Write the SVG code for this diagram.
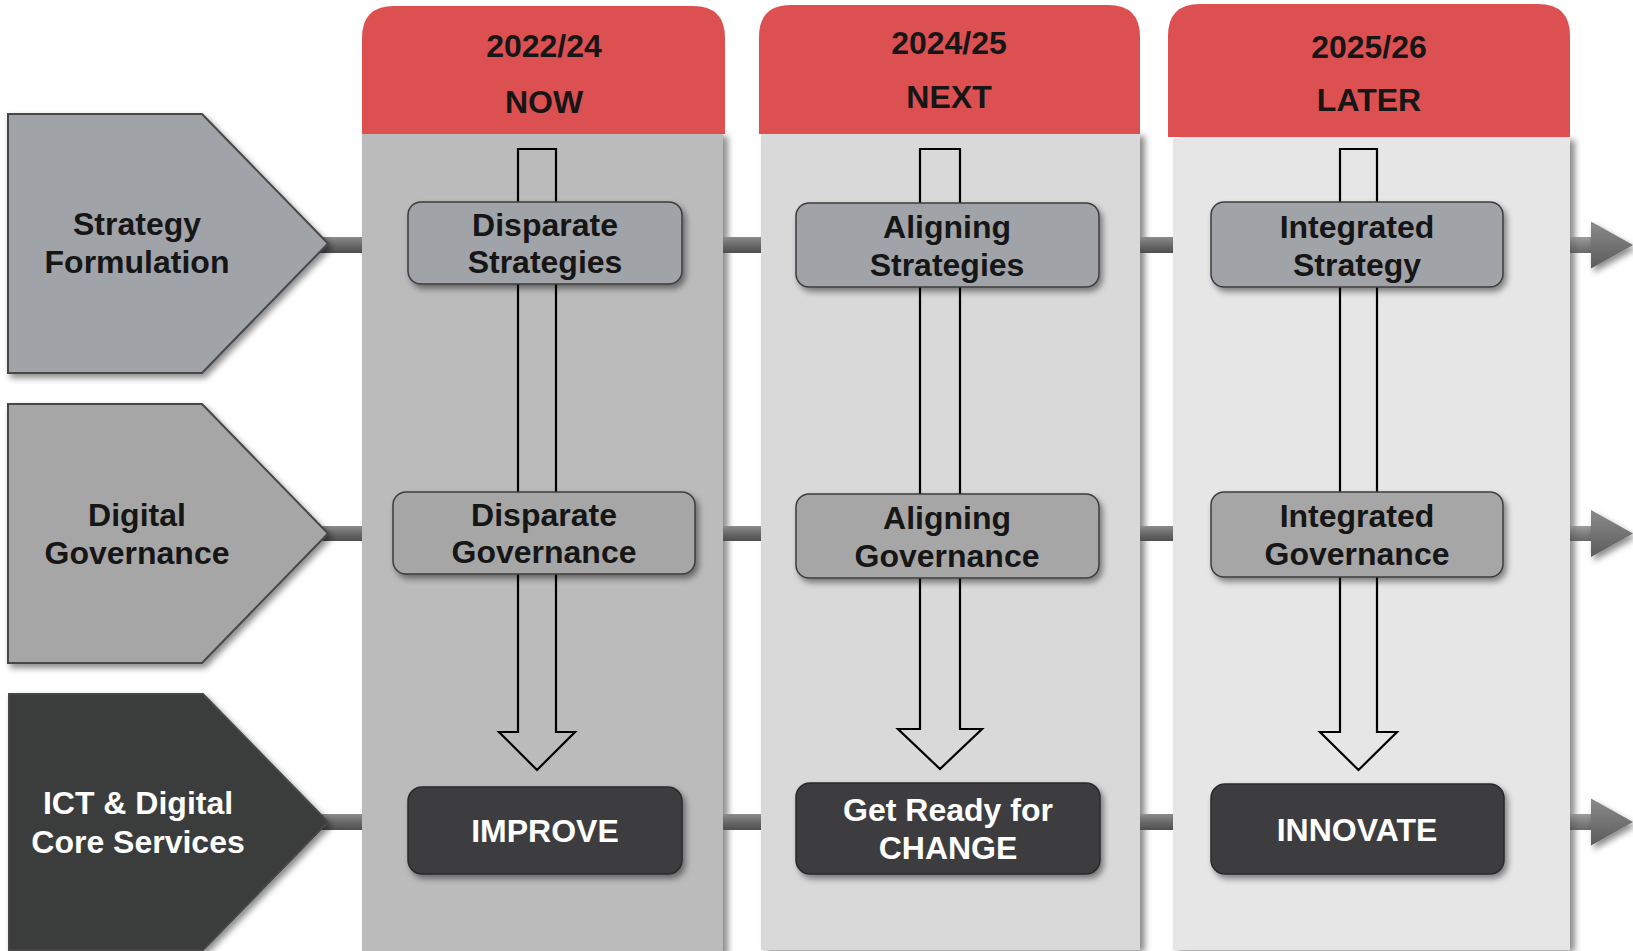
<svg xmlns="http://www.w3.org/2000/svg" width="1633" height="951" viewBox="0 0 1633 951">
<defs>
<style>
.t{font-family:"Liberation Sans",Arial,sans-serif;font-weight:bold;font-size:32px;text-anchor:middle;fill:#161616}
.tw{fill:#ffffff}
.hdr{fill:#dc5052}
.box1{fill:#a0a3a8;stroke:#3c3c3c;stroke-width:1.5}
.box2{fill:#a6a6a6;stroke:#3c3c3c;stroke-width:1.5}
.box3{fill:#3c3d40;stroke:#2a2a2a;stroke-width:1.5}
.pent{stroke:#474747;stroke-width:2}
.bar{fill:url(#barg)}
.varrow{fill:none;stroke:#000;stroke-width:2.2;stroke-linejoin:miter}
.tri{fill:url(#trig)}
</style>
<linearGradient id="barg" x1="0" y1="0" x2="0" y2="1">
<stop offset="0" stop-color="#8c8c8c"/>
<stop offset="0.5" stop-color="#6a6a6a"/>
<stop offset="1" stop-color="#4e4e4e"/>
</linearGradient>
<linearGradient id="trig" x1="0" y1="0" x2="0" y2="1">
<stop offset="0" stop-color="#8a8a8a"/>
<stop offset="1" stop-color="#5c5c5c"/>
</linearGradient>
<filter id="sh" x="-10%" y="-10%" width="130%" height="130%">
<feDropShadow dx="3" dy="4" stdDeviation="3" flood-color="#000" flood-opacity="0.45"/>
</filter>
<filter id="csh" x="-5%" y="-5%" width="115%" height="110%">
<feDropShadow dx="5" dy="2" stdDeviation="3" flood-color="#000" flood-opacity="0.45"/>
</filter>
</defs>
<rect width="1633" height="951" fill="#ffffff"/>

<g id="col-now">
<rect x="362" y="134" width="361" height="820" fill="#bbbbbb" filter="url(#csh)"/>
<path class="hdr" d="M362,134 V38 Q362,6 394,6 H693 Q725,6 725,38 V134 Z"/>
<text class="t" x="544" y="57">2022/24</text>
<text class="t" x="544" y="113">NOW</text>
</g>
<g id="col-next">
<rect x="761" y="134" width="379" height="816" fill="#d9d9d9" filter="url(#csh)"/>
<path class="hdr" d="M759,134 V37 Q759,5 791,5 H1108 Q1140,5 1140,37 V134 Z"/>
<text class="t" x="949" y="54">2024/25</text>
<text class="t" x="949" y="108">NEXT</text>
</g>
<g id="col-later">
<rect x="1173" y="138" width="397" height="812" fill="#e6e6e6" filter="url(#csh)"/>
<path class="hdr" d="M1168,137 V36 Q1168,4 1200,4 H1538 Q1570,4 1570,36 V137 Z"/>
<text class="t" x="1369" y="58">2025/26</text>
<text class="t" x="1369" y="111">LATER</text>
</g>

<g id="connectors">
<rect class="bar" x="315" y="237" width="47" height="16"/>
<rect class="bar" x="723" y="237" width="38" height="16"/>
<rect class="bar" x="1140" y="237" width="33" height="16"/>
<rect class="bar" x="1570" y="237" width="28" height="16" opacity="0.85"/>
<polygon class="tri" points="1591,221.5 1633,245 1591,268.5" filter="url(#sh)"/>

<rect class="bar" x="315" y="526" width="47" height="15"/>
<rect class="bar" x="723" y="526" width="38" height="15"/>
<rect class="bar" x="1140" y="526" width="33" height="15"/>
<rect class="bar" x="1570" y="526" width="28" height="15" opacity="0.85"/>
<polygon class="tri" points="1591,510 1633,533.5 1591,557" filter="url(#sh)"/>

<rect class="bar" x="315" y="814" width="47" height="16"/>
<rect class="bar" x="723" y="814" width="38" height="16"/>
<rect class="bar" x="1140" y="814" width="33" height="16"/>
<rect class="bar" x="1570" y="814" width="28" height="16" opacity="0.85"/>
<polygon class="tri" points="1591,798.5 1633,822 1591,845.5" filter="url(#sh)"/>

<path class="varrow" d="M518,149 H556 V732 H575 L537,770 L499,732 H518 Z"/>
<path class="varrow" d="M920,149 H960 V729 H982 L940,769 L898,729 H920 Z"/>
<path class="varrow" d="M1340,149 H1377 V732 H1397 L1358.5,770 L1320,732 H1340 Z"/>
</g>

<g id="lane-strategy">
<polygon class="pent" fill="#a0a3a8" points="8,114 202,114 328,243.5 202,373 8,373" filter="url(#sh)"/>
<text class="t" x="137" y="235">Strategy</text>
<text class="t" x="137" y="273">Formulation</text>
</g>
<g id="lane-governance">
<polygon class="pent" fill="#a6a6a6" points="8,404 202,404 328,533.5 202,663 8,663" filter="url(#sh)"/>
<text class="t" x="137" y="526">Digital</text>
<text class="t" x="137" y="564">Governance</text>
</g>
<g id="lane-ict">
<polygon class="pent" fill="#3b3c3e" points="9,694 203,694 328,822 203,950 9,950" filter="url(#sh)"/>
<text class="t tw" x="138" y="814">ICT &amp; Digital</text>
<text class="t tw" x="138" y="853">Core Services</text>
</g>

<g id="disparate-strategies">
<rect class="box1" x="408" y="202" width="274" height="82" rx="13" filter="url(#sh)"/>
<text class="t" x="545" y="236">Disparate</text>
<text class="t" x="545" y="273">Strategies</text>
</g>
<g id="disparate-governance">
<rect class="box2" x="393" y="492" width="302" height="82" rx="13" filter="url(#sh)"/>
<text class="t" x="544" y="526">Disparate</text>
<text class="t" x="544" y="563">Governance</text>
</g>
<g id="improve">
<rect class="box3" x="408" y="787" width="274" height="87" rx="14" filter="url(#sh)"/>
<text class="t tw" x="545" y="842">IMPROVE</text>
</g>

<g id="aligning-strategies">
<rect class="box1" x="796" y="203" width="303" height="84" rx="13" filter="url(#sh)"/>
<text class="t" x="947" y="238">Aligning</text>
<text class="t" x="947" y="276">Strategies</text>
</g>
<g id="aligning-governance">
<rect class="box2" x="796" y="494" width="303" height="84" rx="13" filter="url(#sh)"/>
<text class="t" x="947" y="529">Aligning</text>
<text class="t" x="947" y="567">Governance</text>
</g>
<g id="get-ready">
<rect class="box3" x="796" y="783" width="304" height="91" rx="14" filter="url(#sh)"/>
<text class="t tw" x="948" y="821">Get Ready for</text>
<text class="t tw" x="948" y="859">CHANGE</text>
</g>

<g id="integrated-strategy">
<rect class="box1" x="1211" y="202" width="292" height="85" rx="13" filter="url(#sh)"/>
<text class="t" x="1357" y="238">Integrated</text>
<text class="t" x="1357" y="276">Strategy</text>
</g>
<g id="integrated-governance">
<rect class="box2" x="1211" y="492" width="292" height="85" rx="13" filter="url(#sh)"/>
<text class="t" x="1357" y="527">Integrated</text>
<text class="t" x="1357" y="565">Governance</text>
</g>
<g id="innovate">
<rect class="box3" x="1211" y="784" width="293" height="90" rx="14" filter="url(#sh)"/>
<text class="t tw" x="1357" y="841">INNOVATE</text>
</g>
</svg>
